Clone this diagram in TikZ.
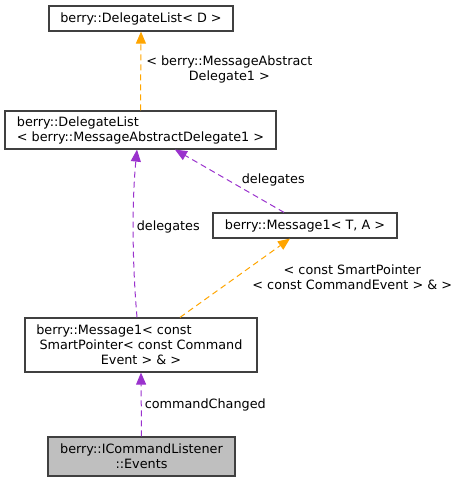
\documentclass[tikz,border=0pt]{standalone}
\usepackage{fontspec}
\setmainfont{DejaVu Sans}
\usetikzlibrary{arrows.meta}
\definecolor{edgeorange}{HTML}{FFA500}
\definecolor{edgepurple}{HTML}{9A32CD}
\definecolor{boxline}{HTML}{404040}
\begin{document}
\begin{tikzpicture}[x=1pt,y=-1pt,
  cls/.style={draw=boxline, line width=1.2pt, rectangle, inner sep=0pt, font=\fontsize{12.8}{15}\selectfont},
  lbl/.style={inner sep=0pt, align=center, font=\fontsize{12.8}{15}\selectfont},
  tmpl/.style={draw=edgeorange, line width=1pt, dash pattern=on 6pt off 4pt, -{Triangle[length=12pt,width=10pt]}},
  usage/.style={draw=edgepurple, line width=1pt, dash pattern=on 6pt off 4pt, -{Triangle[length=12pt,width=10pt]}}]
\useasboundingbox (0,0) rectangle (460,483);
\node[cls, minimum width=184, minimum height=25] (dlD) at (141,18.5) {berry::DelegateList< D >};
\node[cls, minimum width=271, minimum height=38, align=left] (dlMAD) at (140.5,130) {berry::DelegateList\\< berry::MessageAbstractDelegate1 >};
\node[cls, minimum width=184, minimum height=25] (msgTA) at (305,225.5) {berry::Message1< T, A >};
\node[cls, minimum width=232, minimum height=54, align=center] (msgCE) at (141,345) {berry::Message1< const\hspace*{54pt}\\SmartPointer< const Command\\Event > \& >};
\node[cls, minimum width=187, minimum height=39, align=center, fill=black!25] (events) at (141.5,456.5) {berry::ICommandListener\\::Events};
\draw[tmpl] (dlMAD.north) -- (dlD.south) node[lbl, pos=.52, anchor=west, xshift=5] {< berry::MessageAbstract\\Delegate1 >};
\draw[usage] ([xshift=-4]msgCE.north) .. controls (132,260) and (132,200) .. ([xshift=-3.5]dlMAD.south) node[lbl, pos=.52, anchor=west, xshift=3] {delegates};
\draw[usage] ([xshift=-21]msgTA.north) -- ([xshift=34.5]dlMAD.south) node[lbl, pos=.52, anchor=west, xshift=14] {delegates};
\draw[tmpl] ([xshift=39]msgCE.north) -- ([xshift=-15]msgTA.south) node[lbl, pos=.506, anchor=west, xshift=16.3] {< const SmartPointer\\< const CommandEvent > \& >};
\draw[usage] (events.north) -- (msgCE.south) node[lbl, midway, anchor=west, xshift=3] {commandChanged};
\end{tikzpicture}
\end{document}
